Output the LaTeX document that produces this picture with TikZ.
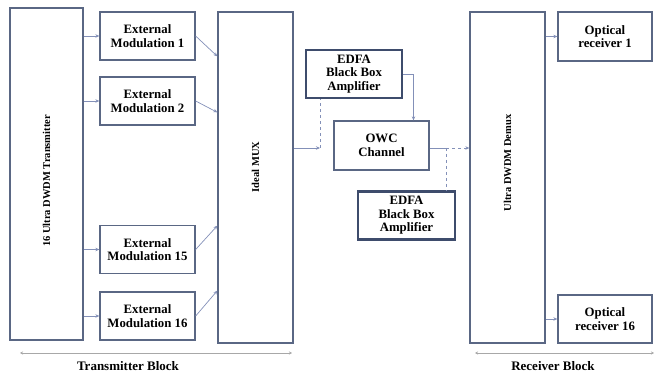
\documentclass[tikz,border=0pt]{standalone}
\usepackage{fontspec}
\setmainfont{Liberation Serif}
\usetikzlibrary{arrows.meta}
\definecolor{boxline}{HTML}{5A6784}
\definecolor{edfaline}{HTML}{3E4C6C}
\definecolor{wire}{HTML}{8390B8}
\definecolor{rule}{HTML}{A8A8A8}
\begin{document}
\begin{tikzpicture}[x=1pt,y=-1pt,
    blk/.style={draw=boxline,line width=1.3pt,fill=white,align=center,inner sep=0pt,
        font=\fontsize{12.8}{13.5}\selectfont\bfseries},
    tall/.style={blk,minimum width=75pt,minimum height=331pt},
    side/.style={rotate=90,font=\fontsize{10.5}{11}\selectfont\bfseries},
    amp/.style={blk,draw=edfaline,line width=2.2pt,minimum width=96pt,minimum height=48pt},
    wired/.style={draw=wire,line width=0.7pt,-{Stealth[length=4pt,width=3.5pt]}},
    thinwire/.style={draw=wire,line width=0.7pt},
    dashwire/.style={draw=wire,line width=0.7pt,dashed},
    spanline/.style={draw=rule,line width=0.8pt,{Stealth[length=3pt,width=3pt]}-{Stealth[length=3pt,width=3pt]}}]
    \useasboundingbox (0,0) rectangle (654,374);
    %%%%%%%%%% Nodi %%%%%%%%%%
    \node (TX) at (46.5,174) [tall,minimum width=73pt,minimum height=332pt] {};
    \node (TXT) at (46.5,181) [side] {16 Ultra DWDM Transmitter};
    \node (EM1) at (147.5,36) [blk,minimum width=95pt,minimum height=48pt] {External\\Modulation 1};
    \node (EM2) at (147.5,101) [blk,minimum width=95pt,minimum height=48pt] {External\\Modulation 2};
    \node (EM15) at (147.5,249.5) [blk,minimum width=95pt,minimum height=48pt] {External\\Modulation 15};
    \node (EM16) at (147.5,316) [blk,minimum width=95pt,minimum height=48pt] {External\\Modulation 16};
    \node (MUX) at (255.5,177.5) [tall] {};
    \node (MUXT) at (255.5,167) [side] {Ideal MUX};
    \node (EDFA1) at (354,74) [amp] {EDFA\\Black Box\\Amplifier};
    \node (OWC) at (381.5,145.5) [blk,minimum width=95pt,minimum height=49pt] {OWC\\Channel};
    \node (EDFA2) at (406.5,215.5) [amp,minimum width=97pt] {EDFA\\Black Box\\Amplifier};
    \node (DEMUX) at (507.5,177.5) [tall] {};
    \node (DEMUXT) at (507.5,163) [side] {Ultra DWDM Demux};
    \node (RX1) at (605,36.5) [blk,minimum width=94pt,minimum height=49pt] {Optical\\receiver 1};
    \node (RX16) at (605,319) [blk,minimum width=94pt,minimum height=48pt] {Optical\\receiver 16};
    \coordinate (m1) at (320,148);
    \coordinate (o1) at (446,148);
    \coordinate (txl) at (20,353);
    \coordinate (txr) at (292,353);
    \coordinate (rxl) at (475,353);
    \coordinate (rxr) at (654,353);
    \node (TXB) at (128,366.5) [font=\fontsize{13}{14}\selectfont\bfseries] {Transmitter Block};
    \node (RXB) at (553,366.5) [font=\fontsize{13}{14}\selectfont\bfseries] {Receiver Block};

    %%%%%%%%% Frecce %%%%%%%%%
    \draw[wired] (TX.east |- EM1.west) -- (EM1.west);
    \draw[wired] (TX.east |- EM2.west) -- (EM2.west);
    \draw[wired] (TX.east |- EM15.west) -- (EM15.west);
    \draw[wired] (TX.east |- EM16.west) -- (EM16.west);
    \draw[wired] (EM1.east) -- ([yshift=-45pt]MUX.north west);
    \draw[wired] (EM2.east) -- ([yshift=-101pt]MUX.north west);
    \draw[wired] (EM15.east) -- ([yshift=118pt]MUX.south west);
    \draw[wired] (EM16.east) -- ([yshift=53pt]MUX.south west);
    \draw[wired] (MUX.east |- m1) -- (m1);
    \draw[dashwire] (m1) -- (m1 |- EDFA1.south);
    \draw[wired] (EDFA1.east) -| ([xshift=32pt]OWC.north);
    \draw[thinwire] (OWC.east |- o1) -- (o1);
    \draw[dashwire] (o1) -- (o1 |- EDFA2.north);
    \draw[wired,dashed] (o1) -- (DEMUX.west |- o1);
    \draw[wired] (DEMUX.east |- RX1.west) -- (RX1.west);
    \draw[wired] (DEMUX.east |- RX16.west) -- (RX16.west);
    \draw[spanline] (txl) -- (txr);
    \draw[spanline] (rxl) -- (rxr);
\end{tikzpicture}
\end{document}
